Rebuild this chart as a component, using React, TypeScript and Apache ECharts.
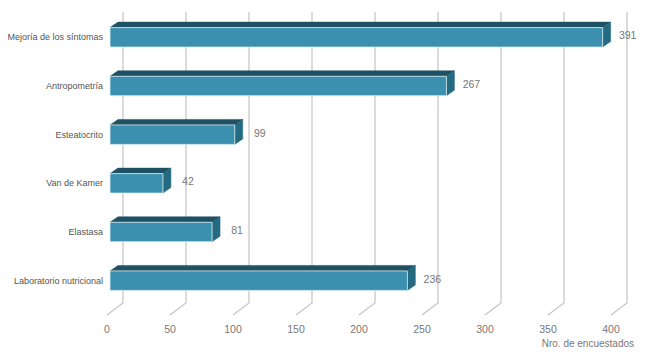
import React, { useEffect, useRef } from "react";
import * as echarts from "echarts";

const categories = [
  "Mejoría de los síntomas",
  "Antropometría",
  "Esteatocrito",
  "Van de Kamer",
  "Elastasa",
  "Laboratorio nutricional",
];
const values = [391, 267, 99, 42, 81, 236];
const ticks = [0, 50, 100, 150, 200, 250, 300, 350, 400];
const axisName = "Nro. de encuestados";

const FONT = "'Liberation Sans', Arial, sans-serif";

export default function App() {
  const ref = useRef<HTMLDivElement>(null);
  useEffect(() => {
    if (!ref.current) return;
    const chart = echarts.init(ref.current, undefined, { renderer: "svg" });
    const option: any = {
      animation: false,
      backgroundColor: "#ffffff",
      grid: { left: 107, right: 39, top: 13, height: 292, outerBoundsMode: "none", containLabel: false },
      xAxis: {
        type: "value",
        min: 0,
        max: 400,
        interval: 50,
        axisLine: { show: false },
        axisTick: { show: false },
        splitLine: { show: false },
        axisLabel: { color: "#777", fontSize: 10.5, fontFamily: FONT, margin: 18 },
      },
      yAxis: {
        type: "category",
        inverse: true,
        data: categories,
        axisLine: { show: false },
        axisTick: { show: false },
        axisLabel: { color: "#555", fontSize: 9, fontFamily: FONT, margin: 4, overflow: "none" },
      },
      graphic: [
        {
          type: "text",
          right: 16,
          top: 338,
          style: { text: axisName, fill: "#777", fontSize: 10, fontFamily: FONT },
        },
      ],
      series: [
        {
          type: "custom",
          silent: true,
          z: 1,
          encode: { x: 0, y: 1 },
          data: ticks.map((t) => [t, 0]),
          renderItem: (params: any, api: any) => {
            const cs = params.coordSys;
            const fx = api.coord([api.value(0), 0])[0];
            const bx = fx + 16;
            const top = cs.y - 1;
            const bb = cs.y + cs.height - 2;
            return {
              type: "polyline",
              shape: { points: [[bx, top], [bx, bb], [fx, bb + 12]] },
              style: { stroke: "#c4c4c4", lineWidth: 1.2, fill: "none" },
            };
          },
        },
        {
          type: "custom",
          z: 2,
          encode: { x: 0, y: 1 },
          data: values.map((v, i) => [v, i]),
          renderItem: (params: any, api: any) => {
            const v = api.value(0);
            const idx = api.value(1);
            const s = api.coord([0, idx]);
            const e = api.coord([v, idx]);
            const h = api.size([0, 1])[1] * 0.4;
            const off = 3;
            const x0 = s[0] + off;
            const x1 = e[0] + off;
            const y0 = s[1] - h / 2;
            const y1 = s[1] + h / 2;
            const dx = 8;
            const dy = -5.5;
            return {
              type: "group",
              children: [
                {
                  type: "polygon",
                  shape: { points: [[x0, y0], [x0 + dx, y0 + dy], [x1 + dx, y0 + dy], [x1, y0]] },
                  style: { fill: "#1d5163", stroke: "#1d5163", lineWidth: 0.5 },
                },
                {
                  type: "polygon",
                  shape: { points: [[x1, y0], [x1 + dx, y0 + dy], [x1 + dx, y1 + dy], [x1, y1]] },
                  style: { fill: "#246b82", stroke: "#246b82", lineWidth: 0.5 },
                },
                {
                  type: "rect",
                  shape: { x: x0, y: y0, width: x1 - x0, height: h },
                  style: { fill: "#3a90ae", stroke: "#dfeef3", lineWidth: 0.8 },
                },
                {
                  type: "text",
                  x: x1 + 25,
                  y: s[1] - 2,
                  style: {
                    text: String(v),
                    fill: "#777",
                    fontSize: 10.5,
                    fontFamily: FONT,
                    align: "center",
                    verticalAlign: "middle",
                  },
                },
              ],
            };
          },
        },
      ],
    };
    chart.setOption(option);
    return () => chart.dispose();
  }, []);
  return <div ref={ref} style={{ width: 650, height: 360, margin: -8 }} />;
}
